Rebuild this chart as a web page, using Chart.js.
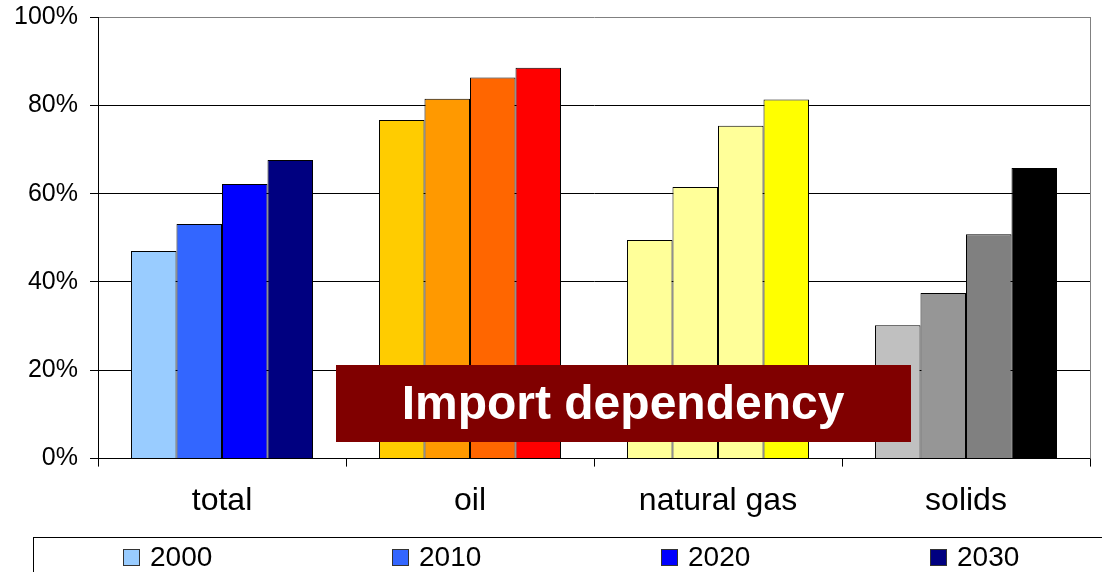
<!DOCTYPE html>
<html>
<head>
<meta charset="utf-8">
<script src="https://cdn.jsdelivr.net/npm/chart.js@4/dist/chart.umd.min.js"></script>
<style>
  html, body { margin: 0; padding: 0; background: #fff; overflow: hidden; }
  #wrap { width: 1102px; height: 572px; position: relative; }
</style>
</head>
<body>
<div id="wrap"><canvas id="chart" width="1102" height="572"></canvas></div>
<script>
// Import dependency by fuel, share of consumption (%)
const categories = ['total', 'oil', 'natural gas', 'solids'];
const years = ['2000', '2010', '2020', '2030'];
const v2000 = [47.0, 76.7, 49.5, 30.2];
const v2010 = [53.1, 81.5, 61.5, 37.5];
const v2020 = [62.2, 86.3, 75.4, 50.8];
const v2030 = [67.6, 88.5, 81.3, 65.8];
const yTicks = [0, 20, 40, 60, 80, 100];

// each fuel has its own shade per year
const c2000 = ['#99CCFF', '#FFCC00', '#FFFF99', '#C0C0C0'];
const c2010 = ['#3366FF', '#FF9900', '#FFFF99', '#969696'];
const c2020 = ['#0000FF', '#FF6600', '#FFFF99', '#808080'];
const c2030 = ['#000080', '#FF0000', '#FFFF00', '#000000'];

const FONT = 'Liberation Sans, Arial, sans-serif';

// legend in a box under the axis, plus the plot border and the caption
const extras = {
  id: 'extras',
  afterDraw(chart) {
    const ctx = chart.ctx;
    const a = chart.chartArea;
    ctx.save();

    // right border of plot area
    ctx.strokeStyle = '#808080';
    ctx.lineWidth = 1;
    ctx.beginPath();
    ctx.moveTo(Math.round(a.right) + 0.5, a.top);
    ctx.lineTo(Math.round(a.right) + 0.5, a.bottom);
    ctx.stroke();

    // legend box
    ctx.strokeStyle = '#000';
    ctx.strokeRect(33.5, 537.5, chart.width + 20, 60);
    ctx.font = '28px ' + FONT;
    ctx.textBaseline = 'middle';
    ctx.textAlign = 'left';
    chart.data.datasets.forEach((ds, i) => {
      const x = 123 + i * 269;
      ctx.fillStyle = ds.backgroundColor[0];
      ctx.fillRect(x, 549, 17, 17);
      ctx.strokeStyle = '#333';
      ctx.strokeRect(x + 0.5, 549.5, 16, 16);
      ctx.fillStyle = '#000';
      ctx.fillText(ds.label, x + 27, 558);
    });

    // caption
    ctx.fillStyle = '#800000';
    ctx.fillRect(336, 365, 575, 77);
    ctx.fillStyle = '#fff';
    ctx.font = 'bold 48px ' + FONT;
    ctx.textAlign = 'center';
    ctx.fillText('Import dependency', 623, 406);
    ctx.restore();
  }
};

const ctx = document.getElementById('chart').getContext('2d');
new Chart(ctx, {
  type: 'bar',
  data: {
    labels: categories,
    datasets: [
      { label: years[0], data: v2000, backgroundColor: c2000 },
      { label: years[1], data: v2010, backgroundColor: c2010 },
      { label: years[2], data: v2020, backgroundColor: c2020 },
      { label: years[3], data: v2030, backgroundColor: c2030 }
    ]
  },
  options: {
    responsive: false,
    animation: false,
    devicePixelRatio: 1,
    layout: { padding: { top: 17, right: 12, bottom: 37, left: 0 } },
    datasets: {
      bar: {
        categoryPercentage: 0.734,
        barPercentage: 1,
        borderWidth: 1,
        borderColor: '#000'
      }
    },
    plugins: {
      legend: { display: false },
      tooltip: { enabled: false }
    },
    scales: {
      x: {
        grid: {
          offset: true,
          drawOnChartArea: false,
          drawTicks: true,
          tickLength: 8,
          color: '#000'
        },
        border: { color: '#000', width: 1 },
        ticks: {
          color: '#000',
          padding: 15,
          font: { family: FONT, size: 32 },
          maxRotation: 0
        }
      },
      y: {
        min: 0,
        max: 100,
        afterBuildTicks: s => { s.ticks = yTicks.map(v => ({ value: v })); },
        afterFit: s => {
          s.width = 98;
          s.paddingTop = 0;
          s.paddingBottom = 0;
        },
        grid: {
          color: c => (c.tick && c.tick.value === 100 ? '#808080' : '#000'),
          tickColor: '#000',
          tickLength: 8
        },
        border: { color: '#000', width: 1 },
        ticks: {
          color: '#000',
          padding: 12,
          font: { family: FONT, size: 25 },
          callback: v => v + '%'
        }
      }
    }
  },
  plugins: [extras]
});
</script>
</body>
</html>
